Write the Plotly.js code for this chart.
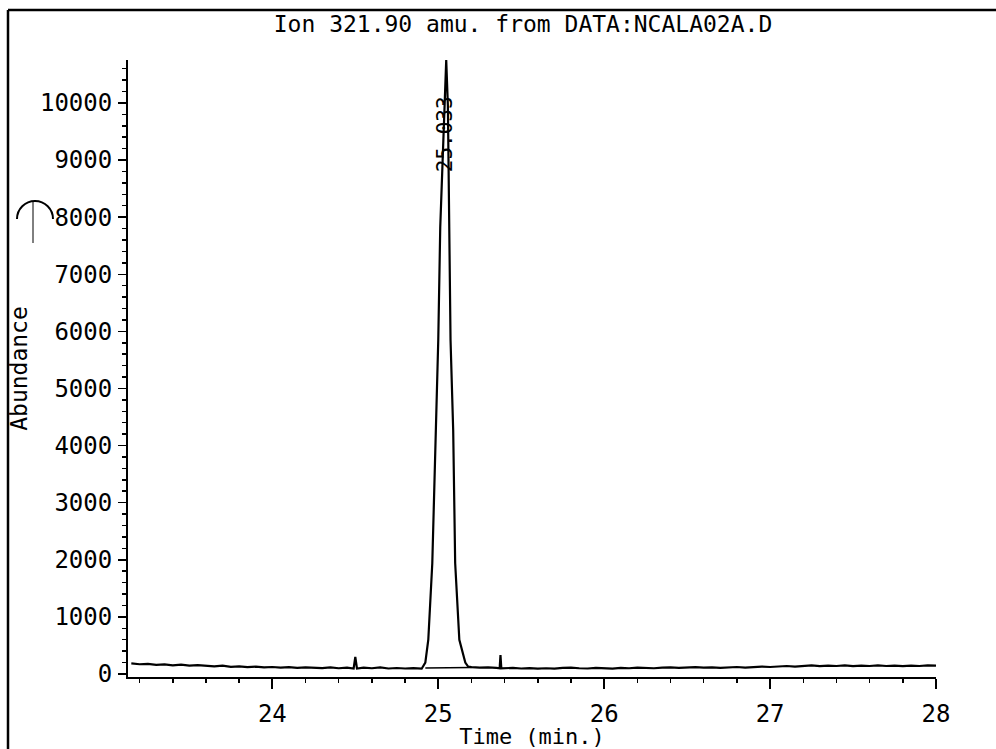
<!DOCTYPE html>
<html>
<head>
<meta charset="utf-8">
<script src="https://cdn.plot.ly/plotly-3.0.1.min.js"></script>
<style>html,body{margin:0;padding:0;background:#fff;}#chart{width:996px;height:749px;}</style>
</head>
<body>
<div id="chart"></div>
<script>
// ---- data ----
const chartTitle = "Ion 321.90 amu. from DATA:NCALA02A.D";
const xTitle = "Time (min.)";
const yTitle = "Abundance";
const peakLabel = "25.033";
const peakLabelTime = 25.04;
const peakLabelAbund = 9450;

const timeMin = [
  23.15,23.2,23.25,23.3,23.35,23.4,23.45,23.5,23.55,23.6,23.65,23.7,23.75,23.8,23.85,23.9,23.95,
  24.0,24.05,24.1,24.15,24.2,24.25,24.3,24.35,24.4,24.45,24.49,24.5,24.51,24.55,24.6,24.65,24.7,
  24.75,24.8,24.85,24.9,24.922,24.94,24.964,24.988,25.0,25.012,25.036,25.048,25.058,25.066,25.074,
  25.09,25.102,25.127,25.163,25.18,25.2,25.25,25.3,25.35,25.37,25.375,25.38,25.45,25.5,25.55,25.6,
  25.65,25.7,25.75,25.8,25.85,25.9,25.95,26.0,26.05,26.1,26.15,26.2,26.25,26.3,26.35,26.4,26.45,
  26.5,26.55,26.6,26.65,26.7,26.75,26.8,26.85,26.9,26.95,27.0,27.05,27.1,27.15,27.2,27.25,27.3,
  27.35,27.4,27.45,27.5,27.55,27.6,27.65,27.7,27.75,27.8,27.85,27.9,27.95,28.0
];
const abundance = [
  185,170,178,160,168,150,162,145,155,140,132,146,126,132,120,127,116,
  122,110,120,106,116,110,104,115,100,110,96,300,96,110,100,115,96,
  105,96,102,92,200,600,1940,4270,5850,7830,9930,10750,9950,7830,5850,
  4270,1940,600,200,130,120,110,116,106,100,330,100,106,96,102,92,
  100,95,106,110,100,96,106,100,95,106,100,110,106,100,110,116,106,
  112,120,110,116,106,116,122,112,126,130,122,136,140,130,142,150,136,
  146,140,150,136,146,140,152,140,146,136,146,140,150,145
];

// integration baseline drawn under the peak
const baseTime = [24.922, 25.2];
const baseAbund = [105, 112];

const yTickVals = [0,1000,2000,3000,4000,5000,6000,7000,8000,9000,10000];
const xTickVals = [24,25,26,27,28];

// ---- layout helpers (pixel -> paper) ----
const L = 128, R = 60, T = 60, B = 72, W = 996, H = 749;
const pw = W - L - R, ph = H - T - B;
const px = x => (x - L) / pw;
const py = y => (H - B - y) / ph;

const FONT = "DejaVu Sans Mono, Liberation Mono, monospace";

const traces = [
  {x: timeMin, y: abundance, type: "scatter", mode: "lines",
   line: {color: "#000", width: 2.2}, hoverinfo: "x+y", showlegend: false},
  {x: baseTime, y: baseAbund, type: "scatter", mode: "lines",
   line: {color: "#000", width: 1.5}, hoverinfo: "skip", showlegend: false}
];

// hole-punch arc (scan artefact) built with cubic curves in paper coords
const cx = 35, cy = 219, r = 18, k = 0.5523 * r;
const arcPath = "M " + px(cx - r) + " " + py(cy) +
  " C " + px(cx - r) + " " + py(cy - k) + " " + px(cx - k) + " " + py(cy - r) + " " + px(cx) + " " + py(cy - r) +
  " C " + px(cx + k) + " " + py(cy - r) + " " + px(cx + r) + " " + py(cy - k) + " " + px(cx + r) + " " + py(cy);

const layout = {
  width: W, height: H,
  margin: {l: L, r: R, t: T, b: B, pad: 0},
  paper_bgcolor: "#fff", plot_bgcolor: "#fff",
  font: {family: FONT, color: "#000", size: 22},
  title: {text: chartTitle, x: 523 / W, xanchor: "center", y: 1 - 24 / H, yanchor: "middle",
          font: {family: FONT, size: 23, color: "#000"}},
  xaxis: {
    range: [23.13, 28], showgrid: false, zeroline: false,
    showline: true, linecolor: "#000", linewidth: 2,
    tickmode: "array", tickvals: xTickVals, ticktext: xTickVals.map(String),
    ticks: "outside", ticklen: 10, tickwidth: 2, tickcolor: "#000",
    ticklabelstandoff: 4,
    minor: {dtick: 0.2, tick0: 23, ticks: "outside", ticklen: 4, tickwidth: 1.5, tickcolor: "#000", showgrid: false},
    tickfont: {family: FONT, size: 24, color: "#000"},
    title: {text: xTitle, standoff: 0, font: {family: FONT, size: 22, color: "#000"}}
  },
  yaxis: {
    range: [-53, 10752], showgrid: false, zeroline: false,
    showline: true, linecolor: "#000", linewidth: 2,
    tickmode: "array", tickvals: yTickVals, ticktext: yTickVals.map(String),
    ticks: "outside", ticklen: 8, tickwidth: 1.5, tickcolor: "#000",
    ticklabelstandoff: 1,
    minor: {dtick: 200, tick0: 0, ticks: "outside", ticklen: 4, tickwidth: 1.5, tickcolor: "#000", showgrid: false},
    tickfont: {family: FONT, size: 24, color: "#000"},
    title: {text: yTitle, standoff: 6, font: {family: FONT, size: 23, color: "#000"}}
  },
  annotations: [
    {x: peakLabelTime, y: peakLabelAbund, xref: "x", yref: "y", text: peakLabel,
     textangle: -90, showarrow: false, xanchor: "center", yanchor: "middle",
     font: {family: FONT, size: 21, color: "#000"}}
  ],
  shapes: [
    // scanned page frame
    {type: "line", xref: "paper", yref: "paper", x0: px(8), y0: py(10), x1: px(996), y1: py(10),
     line: {color: "#000", width: 2.5}},
    {type: "line", xref: "paper", yref: "paper", x0: px(8), y0: py(10), x1: px(8), y1: py(749),
     line: {color: "#000", width: 2.5}},
    {type: "path", xref: "paper", yref: "paper", path: arcPath, line: {color: "#000", width: 2}},
    {type: "line", xref: "paper", yref: "paper", x0: px(33), y0: py(201), x1: px(33), y1: py(243),
     line: {color: "#000", width: 1}}
  ]
};

Plotly.newPlot("chart", traces, layout, {staticPlot: true, displayModeBar: false});
</script>
</body>
</html>
